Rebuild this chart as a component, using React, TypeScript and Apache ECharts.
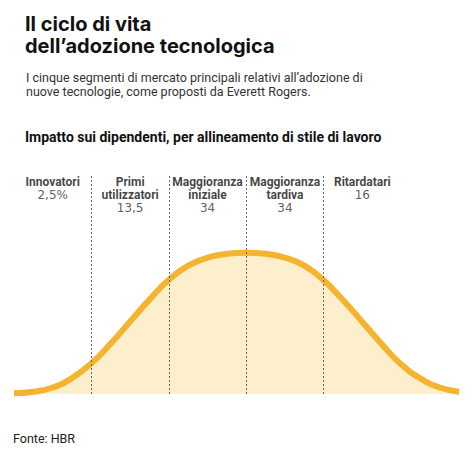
import React, { useEffect, useRef } from "react";
import * as echarts from "echarts";

// Bell curve of technology adoption, x in standard deviations from the mean,
// y as a share of the peak height.
const curveX = [
  -3.0, -2.75, -2.5, -2.25, -2.0, -1.75, -1.5, -1.25, -1.0, -0.75, -0.5, -0.25, 0,
  0.25, 0.5, 0.75, 1.0, 1.25, 1.5, 1.75, 2.0, 2.25, 2.5, 2.75,
];
const curveY = [
  0.005, 0.016, 0.046, 0.113, 0.217, 0.357, 0.513, 0.668, 0.808, 0.908, 0.965, 0.992, 1.0,
  0.992, 0.965, 0.908, 0.805, 0.665, 0.51, 0.353, 0.21, 0.11, 0.046, 0.016,
];

// Segment boundaries (dotted separators) and segment centres for the labels
const boundaries = [-2, -1, 0, 1];
const segmentCenters = [-2.5, -1.5, -0.5, 0.5, 1.5];
const segmentNames = [
  "Innovatori",
  "Primi\nutilizzatori",
  "Maggioranza\niniziale",
  "Maggioranza\ntardiva",
  "Ritardatari",
];
const segmentShares = ["2,5%", "13,5", "34", "34", "16"];

const X_MIN = -3;
const X_MAX = 2.8;
const Y_TOP = 1.55;

const title = "Il ciclo di vita\ndell’adozione tecnologica";
const subtitle =
  "I cinque segmenti di mercato principali relativi all’adozione di\nnuove tecnologie, come proposti da Everett Rogers.";
const chartTitle = "Impatto sui dipendenti, per allineamento di stile di lavoro";
const source = "Fonte: HBR";

export default function App() {
  const ref = useRef<HTMLDivElement>(null);

  useEffect(() => {
    if (!ref.current) return;
    const chart = echarts.init(ref.current, undefined, { renderer: "svg" });

    const curve = curveX.map((x, i) => [x, curveY[i]]);

    const labelData = segmentCenters.map((c, i) => ({
      value: [c, Y_TOP],
      name: segmentNames[i],
      share: segmentShares[i],
    }));

    chart.setOption({
      animation: false,
      backgroundColor: "#ffffff",
      title: [
        {
          text: title,
          left: 25,
          top: 13,
          padding: 0,
          textStyle: {
            fontFamily: "Inter",
            fontSize: 20,
            fontWeight: 700,
            lineHeight: 22,
            color: "#111111",
          },
        },
        {
          text: subtitle,
          left: 26,
          top: 71,
          padding: 0,
          textStyle: {
            fontFamily: "Roboto",
            fontSize: 12.5,
            fontWeight: 400,
            lineHeight: 13.5,
            color: "#333333",
          },
        },
        {
          text: chartTitle,
          left: 25,
          top: 130,
          padding: 0,
          textStyle: {
            fontFamily: "Roboto",
            fontSize: 14,
            fontWeight: 700,
            lineHeight: 14,
            color: "#111111",
          },
        },
        {
          text: source,
          left: 13,
          top: 431,
          padding: 0,
          textStyle: {
            fontFamily: "Roboto",
            fontSize: 12.5,
            fontWeight: 400,
            lineHeight: 14,
            color: "#222222",
          },
        },
      ],
      grid: { left: 14, right: 11, top: 175, bottom: 77 },
      xAxis: {
        type: "value",
        min: X_MIN,
        max: X_MAX,
        show: false,
      },
      yAxis: {
        type: "value",
        min: 0,
        max: Y_TOP,
        show: false,
      },
      series: [
        {
          type: "line",
          data: curve,
          smooth: 0.5,
          symbol: "none",
          lineStyle: { color: "#F5B430", width: 6, cap: "butt" },
          areaStyle: { color: "#FDEFCB", opacity: 1 },
          z: 2,
        },
        {
          type: "line",
          data: [],
          z: 3,
          markLine: {
            silent: true,
            symbol: "none",
            label: { show: false },
            lineStyle: { color: "#666666", width: 1, type: [2, 2] },
            data: boundaries.map((b) => [
              { coord: [b, 0] },
              { coord: [b, Y_TOP] },
            ]),
          },
        },
        {
          type: "scatter",
          data: labelData,
          symbolSize: 0,
          itemStyle: { color: "transparent" },
          silent: true,
          z: 4,
          label: {
            show: true,
            position: "bottom",
            distance: 0,
            align: "center",
            formatter: (p: any) => {
              const lines = String(p.data.name)
                .split("\n")
                .map((s: string) => `{b|${s}}`)
                .join("\n");
              return `${lines}\n{v|${p.data.share}}`;
            },
            rich: {
              b: {
                fontFamily: "Roboto",
                fontSize: 12,
                fontWeight: 700,
                lineHeight: 13.3,
                color: "#111111",
                align: "center",
              },
              v: {
                fontFamily: "DejaVu Sans",
                fontSize: 12,
                fontWeight: 400,
                lineHeight: 13.3,
                color: "#333333",
                align: "center",
              },
            },
          },
        },
      ],
    });

    return () => chart.dispose();
  }, []);

  return (
    <div
      ref={ref}
      style={{
        position: "absolute",
        left: 0,
        top: 0,
        width: 474,
        height: 471,
        background: "#ffffff",
      }}
    />
  );
}
